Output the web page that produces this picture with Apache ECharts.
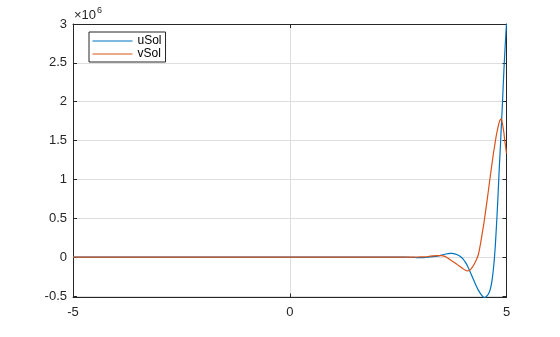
<!DOCTYPE html>
<html>
<head>
<meta charset="utf-8">
<script src="https://cdn.jsdelivr.net/npm/echarts@6/dist/echarts.min.js"></script>
<style>html,body{margin:0;padding:0;background:#fff}#c{width:560px;height:337px}</style>
</head>
<body>
<div id="c"></div>
<script>
// x positions (shared by both series)
var xs = [-5, 2.0, 2.5, 2.8, 2.9, 3.0, 3.1, 3.2, 3.3, 3.4, 3.5, 3.6, 3.7, 3.75, 3.8, 3.85, 3.9, 3.95, 4.0, 4.05, 4.1, 4.15, 4.2, 4.25, 4.3, 4.35, 4.4, 4.45, 4.48, 4.5, 4.55, 4.6, 4.625, 4.65, 4.675, 4.7, 4.72, 4.74, 4.76, 4.78, 4.8, 4.82, 4.84, 4.86, 4.88, 4.9, 4.92, 4.94, 4.96, 4.98, 5.0];
// values in units of 1e6
var uSol = [0, 0, 0, -0.002, -0.005, -0.008, -0.006, 0.0, 0.005, 0.012, 0.025, 0.04, 0.048, 0.047, 0.042, 0.033, 0.02, 0.002, -0.025, -0.065, -0.115, -0.175, -0.24, -0.305, -0.37, -0.425, -0.47, -0.505, -0.518, -0.52, -0.5, -0.455, -0.415, -0.355, -0.265, -0.14, -0.02, 0.13, 0.32, 0.52, 0.74, 0.98, 1.22, 1.43, 1.68, 1.9, 2.15, 2.4, 2.62, 2.82, 3.0];
var vSol = [0, 0, 0, 0, 0.001, 0.002, 0.003, 0.008, 0.015, 0.02, 0.018, 0.005, -0.035, -0.052, -0.07, -0.09, -0.11, -0.13, -0.15, -0.17, -0.178, -0.17, -0.14, -0.095, -0.04, 0.03, 0.17, 0.34, 0.44, 0.52, 0.72, 0.93, 1.035, 1.14, 1.24, 1.34, 1.41, 1.48, 1.55, 1.61, 1.66, 1.71, 1.75, 1.77, 1.78, 1.74, 1.67, 1.6, 1.5, 1.42, 1.335];
var seriesNames = ['uSol', 'vSol'];
var xTicks = [-5, 0, 5];
var yTicks = [-0.5, 0, 0.5, 1, 1.5, 2, 2.5, 3];
var expLabel = '×10';
var expPower = '6';

function pairs(ys) { return xs.map(function (x, i) { return [x, ys[i]]; }); }
var FONT = 'Liberation Sans, Arial, Helvetica, sans-serif';
var AX = '#262626';
var YMIN = -0.52, YMAX = 3;

function yFmt(v) {
  for (var i = 0; i < yTicks.length; i++) if (Math.abs(v - yTicks[i]) < 1e-6) return String(yTicks[i]);
  return '';
}

var chart = echarts.init(document.getElementById('c'), null, {renderer: 'canvas'});
chart.setOption({
  animation: false,
  backgroundColor: '#fff',
  grid: {left: 73, right: 53.5, top: 24, bottom: 39.5, containLabel: false},
  legend: {
    data: seriesNames,
    orient: 'vertical',
    left: 89, top: 32,
    padding: [3, 4, 2, 3],
    itemGap: 1,
    itemWidth: 40, itemHeight: 12,
    borderColor: AX, borderWidth: 1,
    backgroundColor: '#fff',
    itemStyle: {opacity: 0},
    lineStyle: {width: 1},
    textStyle: {fontFamily: FONT, fontSize: 12, color: '#000'}
  },
  xAxis: [{
    type: 'value', min: -5, max: 5, interval: 5,
    axisLine: {onZero: false, lineStyle: {color: AX, width: 1}},
    axisTick: {inside: true, length: 4, lineStyle: {color: AX}},
    axisLabel: {fontFamily: FONT, fontSize: 13, color: AX, margin: 8,
      formatter: function (v) { return xTicks.indexOf(v) >= 0 ? String(v) : ''; }},
    splitLine: {show: true, lineStyle: {color: '#dedede', width: 1}}
  }, {
    type: 'value', min: -5, max: 5, interval: 5, position: 'top',
    axisLine: {show: true, onZero: false, lineStyle: {color: AX, width: 1}},
    axisTick: {inside: true, length: 4, lineStyle: {color: AX}},
    axisLabel: {show: false}, splitLine: {show: false}
  }],
  yAxis: [{
    type: 'value', min: YMIN, max: YMAX, splitNumber: 7,
    axisLine: {show: true, onZero: false, lineStyle: {color: AX, width: 1}},
    axisTick: {inside: true, length: 4, lineStyle: {color: AX}},
    axisLabel: {fontFamily: FONT, fontSize: 13, color: AX, margin: 6, showMinLabel: false, formatter: yFmt},
    splitLine: {show: true, lineStyle: {color: '#dedede', width: 1}}
  }, {
    type: 'value', min: YMIN, max: YMAX, splitNumber: 7, position: 'right',
    axisLine: {show: true, onZero: false, lineStyle: {color: AX, width: 1}},
    axisTick: {inside: true, length: 4, lineStyle: {color: AX}},
    axisLabel: {show: false}, splitLine: {show: false}
  }],
  series: [{
    name: seriesNames[0], type: 'line', data: pairs(uSol), symbol: 'none', smooth: 0.2,
    lineStyle: {color: '#0072BD', width: 1.2}, itemStyle: {color: '#0072BD'}, clip: true
  }, {
    name: seriesNames[1], type: 'line', data: pairs(vSol), symbol: 'none', smooth: 0.2,
    lineStyle: {color: '#D95319', width: 1.2}, itemStyle: {color: '#D95319'}, clip: true
  }],
  graphic: [
    {type: 'text', left: 74, top: 9, style: {text: expLabel, font: '13px ' + FONT, fill: AX}},
    {type: 'text', left: 97, top: 6, style: {text: expPower, font: '9px ' + FONT, fill: AX}}
  ]
});
</script>
</body>
</html>
